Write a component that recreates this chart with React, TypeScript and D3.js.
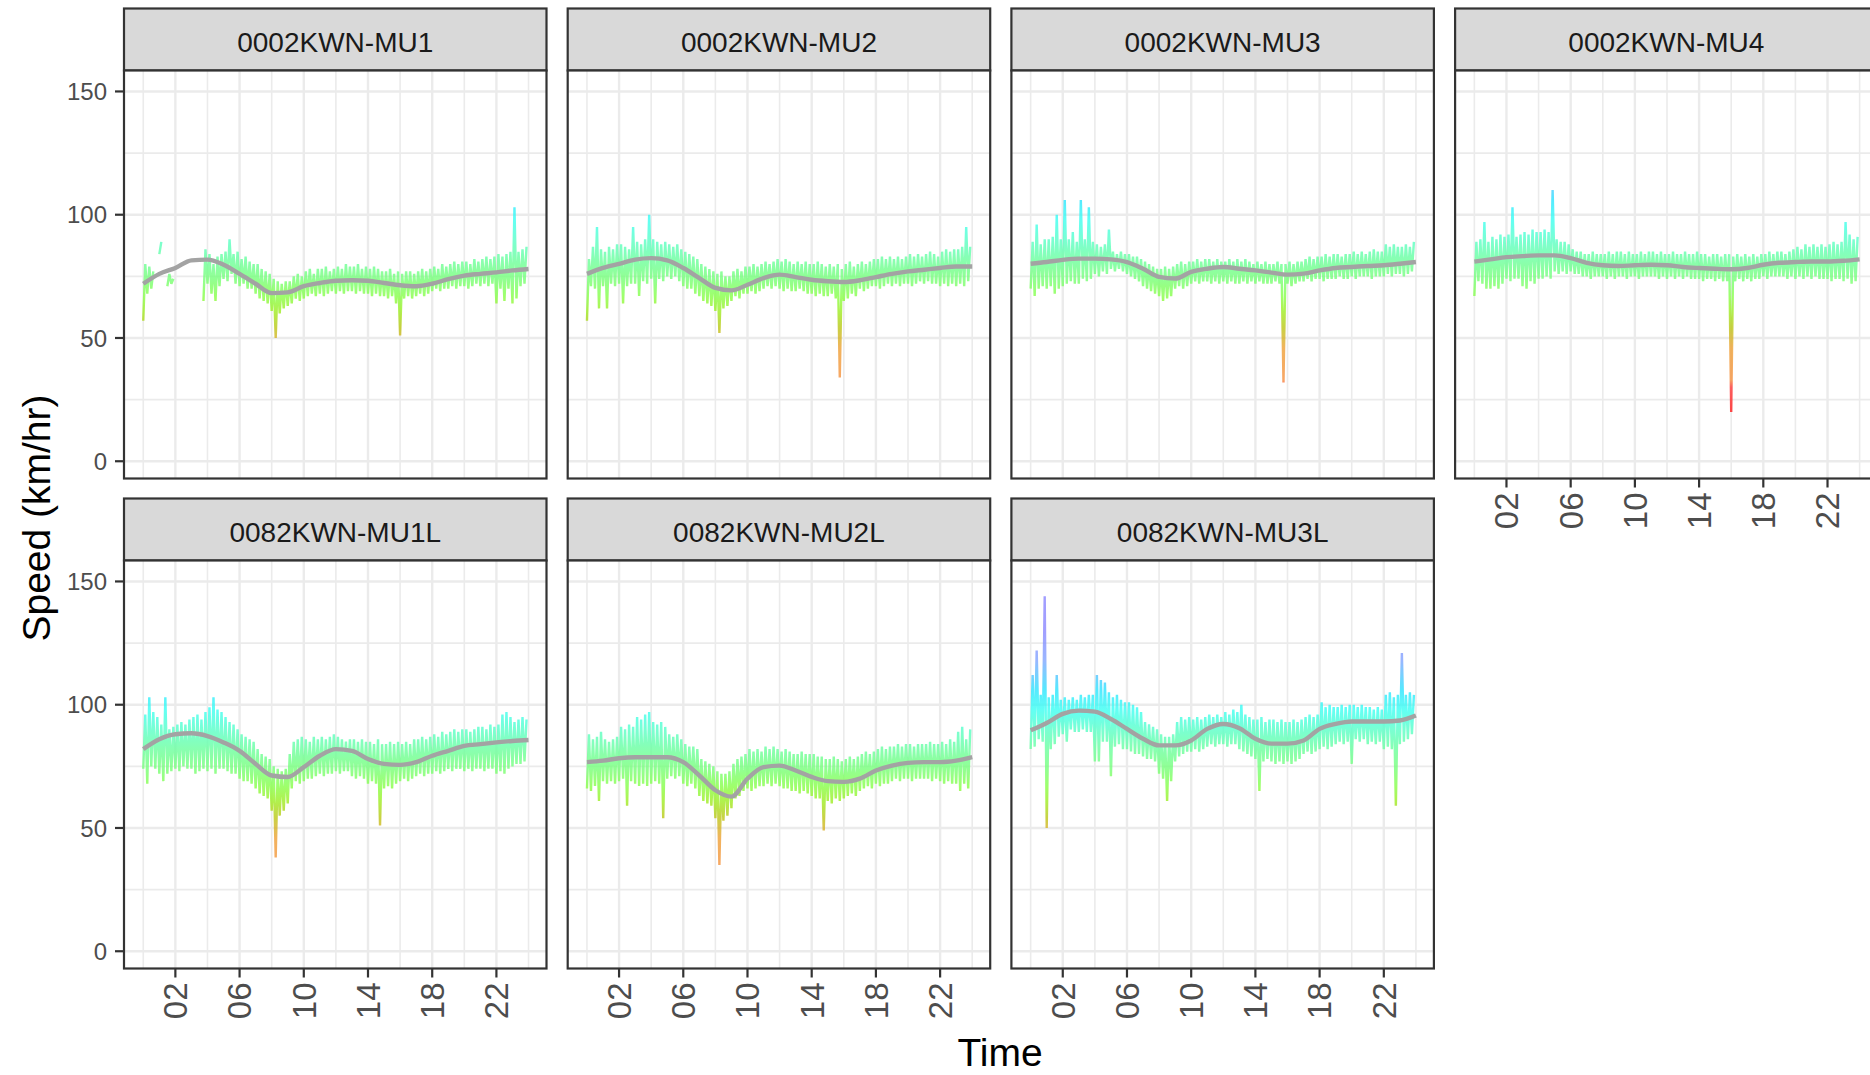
import React from 'react';
import * as d3 from 'd3';

// facet names, in the order ggplot lays them out (4 columns)
const panelNames = ['0002KWN-MU1', '0002KWN-MU2', '0002KWN-MU3', '0002KWN-MU4', '0082KWN-MU1L', '0082KWN-MU2L', '0082KWN-MU3L'];

// speed (km/hr) per quarter hour: low and high of the jittery line in that bin
const mu1Lo = [57, 68, 70, null, 84, null, 71, 72, null, null, null, null, null, null, null, 65, 72, 68, 65, 71,
  74, 73, 76, 72, 71, 72, 70, 70, 68, 66, 65, 64, 61, 50, 60, 62, 63, 64, 66, 65, 66, 67, 68, 67, 68, 67, 68, 69,
  68, 69, 68, 69, 69, 68, 69, 68, 68, 67, 68, 67, 67, 66, 67, 64, 51, 66, 67, 66, 67, 68, 67, 68, 69, 70, 69, 70,
  70, 71, 70, 71, 71, 70, 71, 72, 71, 72, 71, 72, 64, 70, 65, 70, 64, 66, 71, 72];
const mu1Hi = [80, 79, 77, null, 89, null, 76, 74, null, null, null, null, null, null, null, 86, 84, 80, 83, 84,
  85, 90, 84, 85, 82, 83, 81, 80, 80, 78, 77, 76, 74, 73, 72, 73, 73, 75, 76, 75, 77, 78, 76, 78, 78, 79, 77, 78,
  79, 78, 80, 79, 79, 80, 78, 79, 78, 79, 78, 77, 77, 78, 76, 77, 76, 77, 77, 76, 77, 78, 77, 78, 79, 78, 80, 79,
  80, 81, 80, 81, 81, 80, 82, 81, 82, 83, 82, 83, 84, 83, 84, 85, 103, 85, 86, 87];

const mu2Lo = [57, 71, 70, 62, 71, 62, 72, 71, 72, 64, 71, 72, 72, 67, 73, 72, 74, 64, 74, 73, 75, 74, 75, 73,
  71, 70, 70, 68, 67, 65, 64, 63, 61, 52, 62, 63, 65, 67, 66, 68, 68, 69, 68, 69, 70, 71, 70, 71, 70, 69, 70, 69,
  69, 70, 69, 68, 68, 67, 68, 67, 67, 68, 66, 34, 65, 66, 68, 67, 70, 69, 70, 71, 71, 70, 71, 72, 71, 72, 71, 72,
  72, 71, 72, 73, 72, 73, 72, 72, 71, 72, 71, 72, 71, 72, 71, 73];
const mu2Hi = [82, 87, 95, 86, 85, 87, 86, 88, 88, 87, 86, 95, 89, 88, 90, 100, 90, 89, 88, 89, 88, 87, 88, 86,
  85, 84, 83, 82, 80, 79, 78, 77, 76, 77, 75, 75, 77, 78, 77, 79, 79, 80, 79, 80, 81, 80, 81, 82, 81, 82, 81, 80,
  81, 80, 81, 80, 80, 81, 80, 79, 80, 79, 80, 78, 80, 81, 79, 80, 81, 80, 81, 82, 82, 83, 82, 83, 82, 83, 82, 83,
  84, 83, 84, 83, 84, 85, 84, 83, 85, 86, 85, 86, 86, 87, 95, 87];

const mu3Lo = [70, 67, 70, 71, 70, 71, 68, 70, 71, 72, 73, 72, 72, 74, 73, 74, 76, 75, 77, 76, 78, 77, 78, 77,
  76, 75, 74, 73, 71, 70, 69, 68, 67, 65, 66, 67, 70, 71, 70, 71, 72, 73, 72, 73, 73, 72, 73, 72, 73, 72, 73, 72,
  72, 73, 72, 73, 72, 73, 72, 72, 72, 73, 72, 32, 72, 71, 72, 73, 73, 74, 73, 74, 74, 73, 74, 74, 74, 75, 74, 74,
  75, 74, 75, 75, 75, 74, 75, 75, 75, 76, 75, 76, 76, 75, 76, 77];
const mu3Hi = [89, 96, 88, 90, 90, 91, 100, 90, 106, 90, 93, 89, 106, 90, 103, 89, 88, 87, 88, 94, 85, 84, 85, 84,
  84, 83, 83, 82, 81, 80, 79, 78, 78, 79, 78, 79, 80, 81, 80, 81, 81, 82, 81, 82, 82, 81, 82, 81, 81, 82, 81, 82,
  81, 82, 81, 80, 81, 80, 81, 80, 80, 81, 80, 80, 81, 80, 81, 81, 82, 83, 82, 83, 83, 84, 83, 84, 84, 83, 84, 84,
  85, 84, 85, 84, 85, 86, 85, 85, 88, 87, 88, 87, 87, 88, 87, 89];

const mu4Lo = [67, 73, 72, 70, 70, 71, 70, 72, 74, 73, 74, 74, 71, 70, 73, 72, 74, 74, 75, 74, 77, 76, 77, 76,
  77, 76, 76, 75, 75, 74, 75, 75, 75, 74, 75, 74, 75, 75, 74, 75, 75, 74, 75, 75, 75, 75, 74, 75, 74, 75, 74, 75,
  74, 75, 74, 74, 74, 73, 74, 74, 73, 74, 73, 73, 20, 73, 74, 73, 74, 73, 74, 74, 75, 74, 75, 75, 75, 75, 74, 75,
  74, 75, 74, 75, 74, 75, 74, 74, 74, 73, 74, 74, 73, 74, 72, 73];
const mu4Hi = [89, 90, 97, 89, 91, 90, 92, 91, 92, 103, 91, 92, 93, 92, 94, 93, 93, 94, 93, 110, 90, 89, 89, 88,
  86, 85, 85, 84, 84, 85, 84, 84, 84, 85, 84, 85, 85, 84, 85, 84, 84, 85, 84, 85, 85, 84, 85, 84, 84, 85, 84, 84,
  85, 84, 84, 85, 84, 84, 83, 84, 84, 83, 84, 84, 83, 84, 83, 84, 83, 84, 83, 84, 84, 85, 84, 85, 85, 84, 85, 86,
  87, 86, 88, 87, 88, 87, 88, 87, 88, 89, 88, 89, 97, 92, 90, 91];

const mu1lLo = [74, 68, 75, 74, 72, 69, 72, 73, 74, 73, 75, 74, 74, 72, 73, 74, 73, 74, 72, 74, 74, 73, 72, 72,
  70, 69, 69, 68, 66, 64, 63, 62, 57, 38, 55, 57, 60, 66, 69, 68, 69, 70, 70, 71, 72, 71, 72, 72, 73, 72, 73, 73,
  71, 70, 71, 70, 68, 69, 68, 51, 66, 67, 66, 68, 69, 70, 69, 70, 71, 72, 71, 72, 72, 73, 72, 73, 74, 73, 74, 74,
  73, 74, 73, 74, 74, 73, 74, 74, 72, 73, 72, 74, 75, 76, 76, 77];
const mu1lHi = [96, 103, 97, 95, 92, 103, 90, 91, 92, 93, 92, 94, 95, 96, 94, 97, 99, 103, 98, 97, 95, 93, 92, 90,
  88, 87, 86, 85, 82, 80, 79, 78, 75, 74, 73, 74, 80, 85, 86, 87, 86, 85, 87, 86, 87, 86, 87, 88, 87, 86, 85, 86,
  86, 85, 86, 85, 85, 84, 86, 84, 84, 85, 84, 85, 84, 85, 84, 86, 86, 87, 86, 87, 88, 87, 89, 88, 89, 90, 89, 90,
  90, 89, 90, 91, 91, 90, 92, 91, 92, 96, 97, 95, 93, 94, 95, 94];

const mu2lLo = [66, 65, 67, 61, 69, 68, 69, 68, 69, 70, 59, 69, 68, 67, 68, 67, 68, 69, 68, 54, 70, 71, 70, 71,
  68, 67, 68, 66, 63, 61, 60, 59, 54, 35, 53, 55, 58, 62, 63, 65, 66, 65, 66, 67, 67, 68, 67, 68, 67, 66, 66, 65,
  65, 64, 65, 64, 63, 62, 62, 49, 61, 60, 62, 61, 62, 63, 64, 63, 65, 66, 67, 66, 68, 67, 68, 68, 69, 70, 69, 70,
  70, 69, 70, 70, 70, 70, 69, 70, 69, 68, 69, 68, 68, 65, 68, 66];
const mu2lHi = [88, 86, 87, 89, 86, 85, 86, 87, 91, 90, 92, 91, 95, 94, 96, 97, 93, 92, 93, 91, 88, 87, 88, 86,
  84, 83, 83, 82, 78, 77, 76, 75, 73, 72, 72, 73, 76, 78, 79, 80, 82, 81, 82, 81, 83, 82, 83, 82, 81, 82, 81, 80,
  80, 81, 80, 80, 80, 79, 79, 78, 78, 79, 78, 77, 78, 79, 78, 79, 80, 81, 80, 81, 82, 83, 82, 83, 83, 84, 83, 84,
  84, 83, 84, 84, 84, 85, 84, 84, 85, 84, 86, 85, 89, 91, 86, 90];

const mu3lLo = [82, 83, 86, 85, 50, 82, 84, 87, 88, 85, 90, 89, 89, 90, 89, 89, 77, 77, 85, 85, 71, 83, 84, 82,
  82, 81, 80, 80, 79, 78, 78, 77, 72, 70, 61, 69, 77, 79, 80, 81, 81, 82, 81, 82, 83, 84, 83, 84, 84, 83, 84, 84,
  82, 81, 80, 79, 78, 65, 77, 78, 77, 76, 77, 76, 77, 76, 77, 78, 80, 81, 80, 81, 82, 83, 82, 83, 84, 85, 84, 85,
  76, 86, 85, 86, 84, 85, 84, 85, 82, 83, 82, 59, 84, 85, 86, 88];
const mu3lHi = [112, 122, 104, 144, 103, 104, 112, 102, 103, 102, 103, 102, 104, 103, 104, 104, 112, 110, 109, 105,
  103, 104, 102, 101, 101, 100, 99, 97, 93, 92, 91, 90, 88, 87, 87, 88, 93, 95, 94, 95, 94, 95, 94, 95, 96, 95, 96,
  95, 97, 96, 98, 97, 100, 96, 95, 94, 94, 95, 93, 94, 94, 93, 94, 93, 93, 94, 93, 94, 95, 96, 95, 96, 101, 99, 100,
  99, 99, 100, 99, 100, 100, 99, 100, 99, 99, 98, 99, 98, 104, 105, 103, 104, 121, 104, 105, 104];

// smoothed trend (grey line), one value per hour 00..24
const mu1Trend = [72, 76, 78.4, 81.5, 81.8, 79.7, 76, 72, 68.2, 68.5, 71, 72.3, 73.2, 73.4, 73.2, 72.3, 71.4, 71, 72, 73.9, 75.3, 76, 76.6, 77.4, 78];
const mu2Trend = [76, 78.4, 80.1, 81.8, 82.4, 81.5, 78.4, 74.3, 70.3, 69.3, 71.6, 74.3, 75.7, 74.7, 73.6, 73, 72.7, 73.4, 74.7, 76, 77, 77.7, 78.4, 79, 79];
const mu3Trend = [80.1, 80.8, 81.7, 82.2, 82.2, 81.9, 80.8, 78.1, 74.8, 74.1, 76.8, 78.1, 78.8, 78.1, 77.4, 76.5, 75.7, 76.1, 77.4, 78.4, 78.8, 79.2, 79.5, 80.1, 80.8];
const mu4Trend = [81, 81.9, 82.8, 83.2, 83.5, 83.5, 82.4, 80.5, 79.5, 79.2, 79.5, 79.7, 79.5, 78.8, 78.4, 78.1, 77.9, 78.4, 79.7, 80.5, 80.8, 81, 81, 81.3, 81.9];
const mu1lTrend = [82, 86, 88, 88.4, 87.3, 84.7, 81.3, 76, 71.3, 70.7, 74.7, 79.3, 82, 81.3, 78, 76, 75.6, 76.7, 79.3, 81.3, 83.3, 84, 84.7, 85.3, 85.7];
const mu2lTrend = [76.7, 77.3, 78.3, 78.7, 78.7, 78.7, 76.7, 71.3, 65.3, 62.7, 70, 74.7, 75.3, 73.3, 70.7, 69, 68.7, 70, 73.3, 75.3, 76.4, 76.7, 76.7, 77.3, 78.7];
const mu3lTrend = [89.6, 92.6, 96.3, 97.6, 97.2, 94.2, 90.2, 86.2, 83.5, 83.5, 85.5, 90.2, 92.2, 90.5, 86.2, 84.2, 84.2, 85.5, 90.2, 92.2, 93.2, 93.2, 93.2, 93.6, 95.6];

const loSeries = [mu1Lo, mu2Lo, mu3Lo, mu4Lo, mu1lLo, mu2lLo, mu3lLo];
const hiSeries = [mu1Hi, mu2Hi, mu3Hi, mu4Hi, mu1lHi, mu2lHi, mu3lHi];
const trendSeries = [mu1Trend, mu2Trend, mu3Trend, mu4Trend, mu1lTrend, mu2lTrend, mu3lTrend];

const yTicks = [0, 50, 100, 150];
const yMinor = [25, 75, 125];
const xTicks = [2, 6, 10, 14, 18, 22];
const xMinor = [0, 4, 8, 12, 16, 20, 24];
const xTickLabels = ['02', '06', '10', '14', '18', '22'];

// colour ramp along speed
const speedStops = [20, 30, 33, 46, 54, 61, 67, 74, 82, 90, 98, 106, 118, 130];
const speedColors = ['#ff1a1a', '#ff3a3a', '#f5903f', '#eea034', '#bcc515', '#9cee22', '#86ff48', '#76ff78', '#6aff9e', '#58ffc8', '#3afff2', '#2ae4ff', '#80a4ff', '#8a86ff'];

const W = 1870;
const H = 1075;
const font = "'Liberation Sans', Arial, Helvetica, sans-serif";

const App = () => {
  const pw = 422.5;
  const stripH = 62;
  const ph = 408;
  const left0 = 124;
  const colStep = 443.7;
  const top0 = 8.5;
  const rowStep = 490;

  const x = d3.scaleLinear().domain([-1.2, 25.12]).range([0, pw]);
  const y = d3.scaleLinear().domain([-7, 158.5]).range([ph, 0]);

  const zig = d3.line<any>()
    .defined(d => d.v != null)
    .x(d => x(d.t))
    .y(d => y(d.v));
  const smooth = d3.line<number>()
    .x((d, i) => x(i))
    .y(d => y(d))
    .curve(d3.curveMonotoneX);

  const zigPoints = (lo, hi) => {
    const pts = [];
    lo.forEach((l, i) => {
      const t = i * 0.25;
      pts.push({ t, v: l });
      pts.push({ t: t + 0.125, v: hi[i] });
    });
    return pts;
  };

  const hasXAxis = (k) => k >= 4 || k === 3;

  return (
    <svg width={W} height={H} style={{ position: 'absolute', left: 0, top: 0, background: '#fff' }} fontFamily={font}>
      <defs>
        <linearGradient id="speedGrad" gradientUnits="userSpaceOnUse" x1={0} x2={0} y1={y(0)} y2={y(150)}>
          {speedStops.map((s, i) => (
            <stop key={i} offset={s / 150} stopColor={speedColors[i]} />
          ))}
        </linearGradient>
      </defs>
      {panelNames.map((name, k) => {
        const col = k % 4;
        const row = Math.floor(k / 4);
        const px = left0 + col * colStep;
        const py = top0 + row * rowStep;
        return (
          <g key={name} transform={`translate(${px},${py})`}>
            <rect x={0} y={0} width={pw} height={stripH} fill="#d9d9d9" stroke="#333" strokeWidth={2.2} />
            <text x={pw / 2} y={stripH / 2 + 2} dy="0.36em" textAnchor="middle" fontSize={28} fill="#1a1a1a">{name}</text>
            <g transform={`translate(0,${stripH})`}>
              <rect x={0} y={0} width={pw} height={ph} fill="#fff" />
              {yMinor.map(v => <line key={'ym' + v} x1={0} x2={pw} y1={y(v)} y2={y(v)} stroke="#ebebeb" strokeWidth={1.6} />)}
              {xMinor.map(v => <line key={'xm' + v} x1={x(v)} x2={x(v)} y1={0} y2={ph} stroke="#ebebeb" strokeWidth={1.6} />)}
              {yTicks.map(v => <line key={'yM' + v} x1={0} x2={pw} y1={y(v)} y2={y(v)} stroke="#ebebeb" strokeWidth={2.4} />)}
              {xTicks.map(v => <line key={'xM' + v} x1={x(v)} x2={x(v)} y1={0} y2={ph} stroke="#ebebeb" strokeWidth={2.4} />)}
              <path d={zig(zigPoints(loSeries[k], hiSeries[k])) || ''} fill="none" stroke="url(#speedGrad)" strokeWidth={2.4} strokeOpacity={0.8} strokeLinejoin="bevel" />
              <path d={smooth(trendSeries[k]) || ''} fill="none" stroke="#a3a3a3" strokeWidth={4.4} />
              <rect x={0} y={0} width={pw} height={ph} fill="none" stroke="#333" strokeWidth={2.2} />
              {col === 0 && yTicks.map(v => (
                <g key={'yt' + v}>
                  <line x1={-9} x2={0} y1={y(v)} y2={y(v)} stroke="#333" strokeWidth={2.2} />
                  <text x={-17} y={y(v)} dy="0.36em" textAnchor="end" fontSize={24} fill="#4d4d4d">{v}</text>
                </g>
              ))}
              {hasXAxis(k) && xTicks.map((v, i) => (
                <g key={'xt' + v}>
                  <line x1={x(v)} x2={x(v)} y1={ph} y2={ph + 9} stroke="#333" strokeWidth={2.2} />
                  <text transform={`translate(${x(v)},${ph + 14}) rotate(-90)`} dy="0.36em" textAnchor="end" fontSize={33} fill="#4d4d4d">{xTickLabels[i]}</text>
                </g>
              ))}
            </g>
          </g>
        );
      })}
      <text x={1000} y={1066} textAnchor="middle" fontSize={39} fill="#000">Time</text>
      <text transform="translate(50,518) rotate(-90)" textAnchor="middle" fontSize={39} fill="#000">Speed (km/hr)</text>
    </svg>
  );
};

export default App;
